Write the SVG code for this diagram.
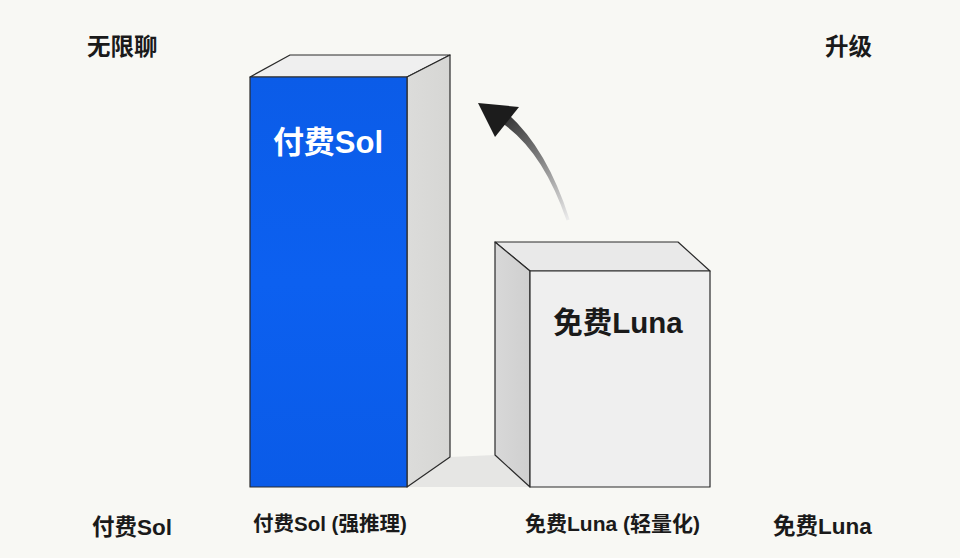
<svg xmlns="http://www.w3.org/2000/svg" width="960" height="558" viewBox="0 0 960 558">
  <style>
    .lbl { font-family: "Liberation Sans", "Noto Sans CJK SC", sans-serif; font-weight: bold; fill: #1a1a1a; }
    .edge { stroke: #2a2a2a; stroke-width: 1.2; stroke-linejoin: round; }
  </style>
  <defs>
    <linearGradient id="blue" x1="0" y1="0" x2="0" y2="1">
      <stop offset="0" stop-color="#0b5ce8"/>
      <stop offset="0.5" stop-color="#0c60f0"/>
      <stop offset="1" stop-color="#0a5be8"/>
    </linearGradient>
    <linearGradient id="sideR" x1="0" y1="0" x2="1" y2="0">
      <stop offset="0" stop-color="#dcdcda"/>
      <stop offset="1" stop-color="#d6d6d4"/>
    </linearGradient>
    <linearGradient id="sideL" x1="0" y1="0" x2="1" y2="0">
      <stop offset="0" stop-color="#d8d8d8"/>
      <stop offset="1" stop-color="#cfcfcf"/>
    </linearGradient>
    <linearGradient id="arrowGrad" gradientUnits="userSpaceOnUse" x1="568" y1="220" x2="485" y2="108">
      <stop offset="0" stop-color="#ececec"/>
      <stop offset="0.5" stop-color="#7a7a7a"/>
      <stop offset="1" stop-color="#1c1c1c"/>
    </linearGradient>
  </defs>

  <rect width="960" height="558" fill="#f8f8f4"/>

  <!-- floor shadow -->
  <polygon points="450,457 495,455 530,487 407,487" fill="#e6e6e4"/>

  <g id="box-sol">
    <polygon class="edge" points="250,77 290,55 450,55 407,77" fill="#efefef"/>
    <polygon class="edge" points="407,77 450,55 450,457 407,487" fill="url(#sideR)"/>
    <rect class="edge" x="250" y="77" width="157" height="410" fill="url(#blue)"/>
    <text x="328" y="153" text-anchor="middle" font-size="31" class="lbl" style="fill:#ffffff">付费Sol</text>
  </g>

  <g id="box-luna">
    <polygon class="edge" points="495,242 678,242 710,271 530,271" fill="#e9e9e9"/>
    <polygon class="edge" points="495,242 530,271 530,487 495,455" fill="url(#sideL)"/>
    <rect class="edge" x="530" y="271" width="180" height="216" fill="#efefef"/>
    <text x="618" y="333" text-anchor="middle" font-size="29.5" class="lbl">免费Luna</text>
  </g>

  <g id="connectors">
    <g id="arrow-upgrade">
      <path d="M566.6,220.5 Q543,151 502,123 L508,114 Q547,149 569.6,219.5 Z" fill="url(#arrowGrad)"/>
      <polygon points="478,103 519,107 495,137" fill="#1c1c1c"/>
    </g>
  </g>

  <g id="label-top-left"><text x="87" y="55" font-size="23.5" class="lbl">无限聊</text></g>
  <g id="label-top-right"><text x="825" y="55" font-size="23.5" class="lbl">升级</text></g>
  <g id="label-bottom-left"><text x="92" y="535" font-size="22.5" class="lbl">付费Sol</text></g>
  <g id="label-bottom-sol"><text x="253" y="531" font-size="20.5" class="lbl">付费Sol (强推理)</text></g>
  <g id="label-bottom-luna"><text x="525" y="531" font-size="21" class="lbl">免费Luna (轻量化)</text></g>
  <g id="label-bottom-right"><text x="773" y="534" font-size="22.5" class="lbl">免费Luna</text></g>
</svg>
